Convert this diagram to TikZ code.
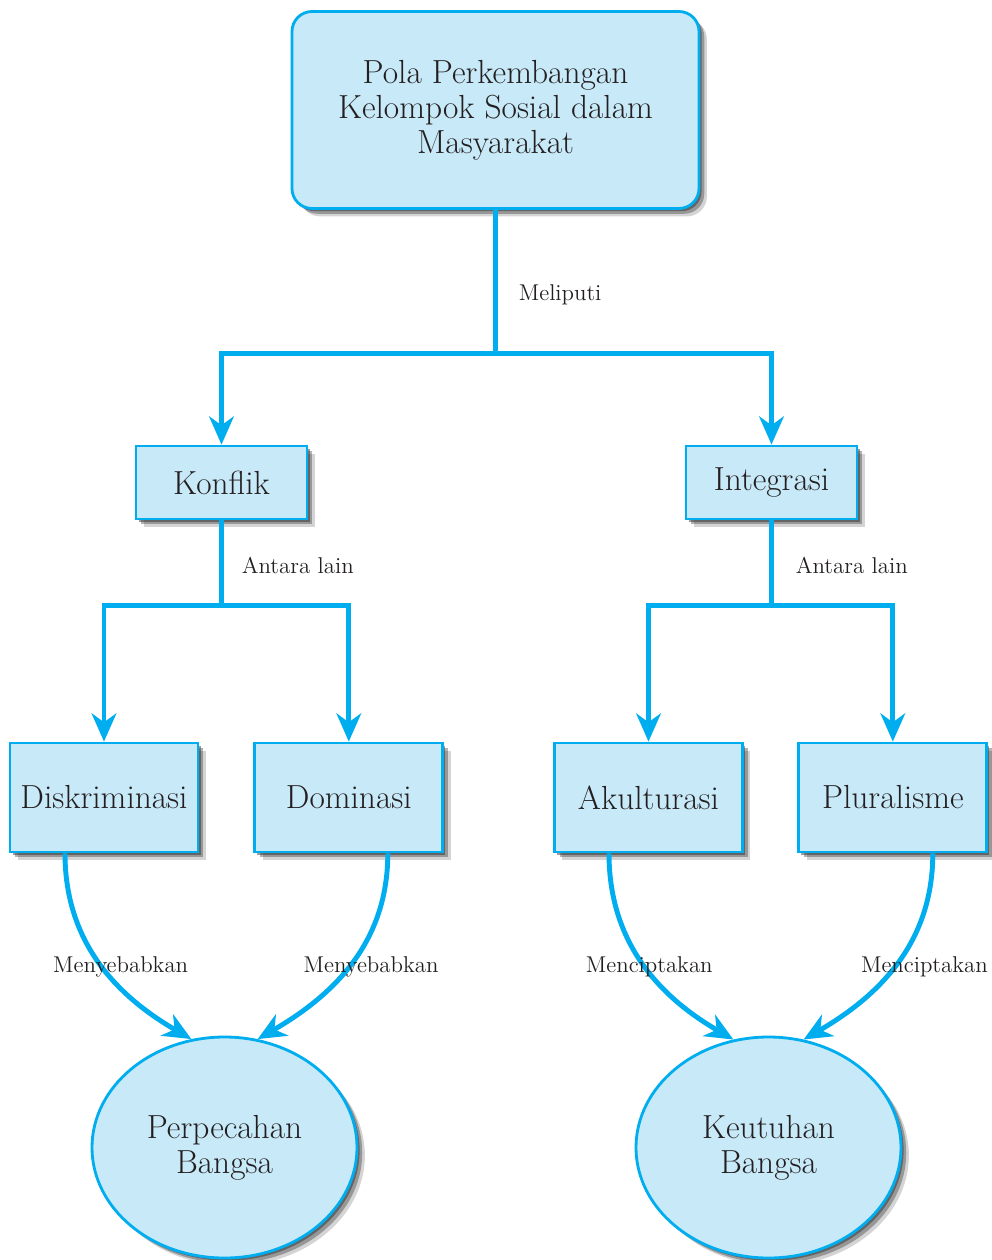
\documentclass[tikz,border=0pt]{standalone}
\usepackage{xcolor}
\usepackage{tikz}
\usetikzlibrary{shapes.geometric, arrows.meta, positioning, shadows}

\definecolor{lineblue}{RGB}{0,174,239}
\definecolor{fillblue}{RGB}{200,233,248}
\definecolor{textdark}{RGB}{35,31,32}

\begin{document}
\begin{tikzpicture}[
		node distance=1cm,
		softshadow/.style={drop shadow={shadow xshift=1.5pt, shadow yshift=-1.5pt, opacity=0.45, fill=black!85}, drop shadow={shadow xshift=3pt, shadow yshift=-3pt, opacity=0.35, fill=black!85}, drop shadow={shadow xshift=4.5pt, shadow yshift=-4.5pt, opacity=0.2, fill=black!85}},
		box/.style={rectangle, draw=lineblue, fill=fillblue, line width=1.6pt, minimum width=3.42cm, minimum height=1.46cm, align=center, text=textdark, font=\fontsize{19}{20}\selectfont, softshadow},
		topbox/.style={box, rounded corners=0.4cm, minimum width=8.14cm, minimum height=3.94cm},
		subbox/.style={box, minimum width=3.76cm, minimum height=2.18cm},
		result/.style={ellipse, draw=lineblue, fill=fillblue, line width=1.6pt, minimum width=5.3cm, minimum height=4.42cm, inner sep=0pt, align=center, text=textdark, font=\fontsize{19}{20}\selectfont, softshadow},
		flow/.style={-{Stealth[length=16pt, width=14pt, inset=5pt]}, line width=2.8pt, draw=lineblue},
		linktext/.style={text=textdark, font=\fontsize{13}{15}\selectfont}
	]
	\useasboundingbox (0,0) rectangle (19.82,-25.2);

	\node[topbox] (pola) at (9.91,-2.2) {Pola Perkembangan\\Kelompok Sosial dalam\\Masyarakat};

	\node[box] (konflik) at (4.43,-9.65) {Konflik};
	\node[box] (integrasi) at (15.43,-9.65) {Integrasi};

	\node[subbox] (diskriminasi) at (2.08,-15.95) {Diskriminasi};
	\node[subbox, right=1.08cm of diskriminasi] (dominasi) {Dominasi};
	\node[subbox] (akulturasi) at (12.97,-15.95) {Akulturasi};
	\node[subbox, right=1.07cm of akulturasi] (pluralisme) {Pluralisme};

	\node[result] (perpecahan) at (4.49,-22.95) {Perpecahan\\Bangsa};
	\node[result] (keutuhan) at (15.37,-22.95) {Keutuhan\\Bangsa};

	\draw[flow] (pola.south) -- node[linktext, right=0.3cm, pos=0.59] (meliputi) {Meliputi} ++(0,-2.87) -| (konflik.north);
	\draw[flow] (pola.south) -- ++(0,-2.87) -| (integrasi.north);

	\draw[flow] (konflik.south) -- node[linktext, right=0.24cm, pos=0.53] (antara1) {Antara lain} ++(0,-1.7) -| (diskriminasi.north);
	\draw[flow] (konflik.south) -- ++(0,-1.7) -| (dominasi.north);
	\draw[flow] (integrasi.south) -- node[linktext, right=0.32cm, pos=0.53] (antara2) {Antara lain} ++(0,-1.7) -| (akulturasi.north);
	\draw[flow] (integrasi.south) -- ++(0,-1.7) -| (pluralisme.north);

	\draw[flow] ([xshift=-0.78cm]diskriminasi.south) to[out=-90, in=150] node[linktext, pos=0.5, xshift=0.42cm, yshift=-0.08cm] (sebab1) {Menyebabkan} (perpecahan.107);
	\draw[flow] ([xshift=0.78cm]dominasi.south) to[out=-90, in=30] node[linktext, pos=0.5, xshift=0.39cm, yshift=-0.08cm] (sebab2) {Menyebabkan} (perpecahan.73);
	\draw[flow] ([xshift=-0.79cm]akulturasi.south) to[out=-90, in=150] node[linktext, pos=0.5, xshift=0.13cm, yshift=-0.08cm] (cipta1) {Menciptakan} (keutuhan.108);
	\draw[flow] ([xshift=0.8cm]pluralisme.south) to[out=-90, in=30] node[linktext, pos=0.5, xshift=0.55cm, yshift=-0.08cm] (cipta2) {Menciptakan} (keutuhan.72);

\end{tikzpicture}
\end{document}
